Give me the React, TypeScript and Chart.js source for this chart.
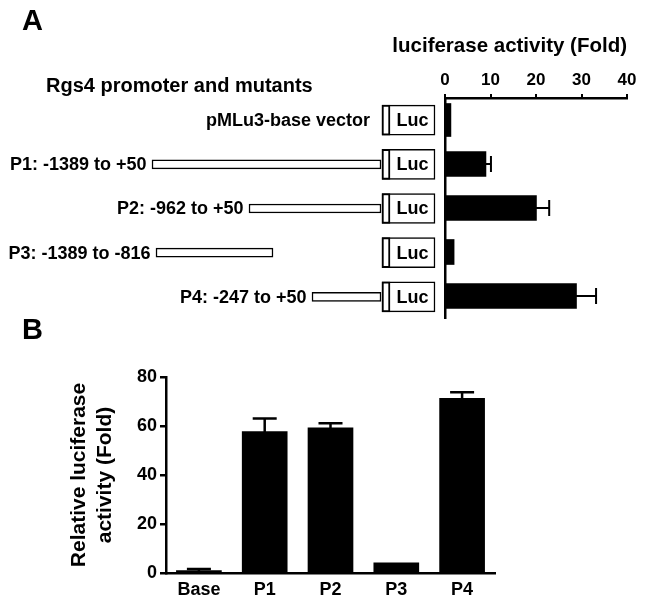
import React, { useEffect, useRef } from 'react';
import { Chart, registerables } from 'chart.js';

Chart.register(...registerables);

const FONT = '"Liberation Sans", Arial, Helvetica, sans-serif';
Chart.defaults.font.family = FONT;
Chart.defaults.color = '#000';

// ---------- Panel A data ----------
const constructLabels = [
  'pMLu3-base vector',
  'P1: -1389 to +50',
  'P2: -962 to +50',
  'P3: -1389 to -816',
  'P4: -247 to +50',
];
const foldMean = [1.3, 9.0, 20.1, 2.0, 28.9];
const foldErr = [0, 1.1, 2.8, 0, 4.3];
const foldMin = 0;
const foldMax = 40;
const foldStep = 10;
const foldTitle = 'luciferase activity (Fold)';
// promoter fragments in schematic map units (drawing is not to scale)
const fragStart = [null, 152, 249, 156, 312];
const fragEnd = [null, 381, 381, 273, 381];
const lucBox = [382, 435];
const lucHinge = [382, 390];
const mapMin = 0;
const mapMax = 645;

// ---------- Panel B data ----------
const groupsB = ['Base', 'P1', 'P2', 'P3', 'P4'];
const relMean = [1.0, 57.7, 59.3, 4.2, 71.3];
const relErr = [0.6, 5.4, 1.8, 0, 2.5];
const relMin = 0;
const relMax = 80;
const relStep = 20;
const relTitle = ['Relative luciferase', 'activity (Fold)'];

const errorBarPlugin = {
  id: 'errorBarsCustom',
  afterDatasetsDraw(chart: any) {
    const ctx = chart.ctx;
    const horizontal = chart.options.indexAxis === 'y';
    chart.data.datasets.forEach((ds: any, di: number) => {
      const errs = ds.errors;
      if (!errs) return;
      const meta = chart.getDatasetMeta(di);
      const vScale = horizontal ? chart.scales[meta.xAxisID] : chart.scales[meta.yAxisID];
      ctx.save();
      ctx.strokeStyle = '#000';
      ctx.lineWidth = ds.errorLineWidth || 2;
      meta.data.forEach((el: any, j: number) => {
        const v = ds.data[j];
        const e = errs[j];
        if (v == null || !e) return;
        const end = vScale.getPixelForValue(v + e);
        const cap = (ds.errorCap || 16) / 2;
        ctx.beginPath();
        if (horizontal) {
          ctx.moveTo(el.x - 2, el.y);
          ctx.lineTo(end, el.y);
          ctx.moveTo(end, el.y - cap);
          ctx.lineTo(end, el.y + cap);
        } else {
          ctx.moveTo(el.x, el.y + 2);
          ctx.lineTo(el.x, end);
          ctx.moveTo(el.x - cap, end);
          ctx.lineTo(el.x + cap, end);
        }
        ctx.stroke();
      });
      ctx.restore();
    });
  },
};

const schematicTextPlugin = {
  id: 'schematicText',
  afterDatasetsDraw(chart: any) {
    const ctx = chart.ctx;
    const xs = chart.scales.x;
    const ys = chart.scales.y;
    ctx.save();
    ctx.fillStyle = '#000';
    ctx.textBaseline = 'middle';
    ctx.font = `bold 18px ${FONT}`;
    constructLabels.forEach((label, i) => {
      const y = ys.getPixelForValue(i);
      const s = fragStart[i];
      const anchor = s != null ? xs.getPixelForValue(s) - 5.5 : xs.getPixelForValue(lucBox[0]) - 12;
      ctx.textAlign = 'right';
      ctx.fillText(label, anchor, y + 1);
      const cx = (xs.getPixelForValue(lucHinge[1]) + xs.getPixelForValue(lucBox[1])) / 2;
      ctx.textAlign = 'center';
      ctx.fillText('Luc', cx, y + 1);
    });
    ctx.restore();
  },
};

const canvasStyle: React.CSSProperties = {
  position: 'absolute',
  left: 0,
  top: 0,
  width: 645,
  height: 607,
};

function ChartCanvas({ makeConfig }: { makeConfig: () => any }) {
  const ref = useRef<HTMLCanvasElement | null>(null);
  useEffect(() => {
    const chart = new Chart(ref.current as HTMLCanvasElement, makeConfig());
    return () => chart.destroy();
  }, []);
  return <canvas ref={ref} width={645} height={607} style={canvasStyle} />;
}

const schematicConfig = () => ({
  type: 'bar',
  data: {
    labels: constructLabels,
    datasets: [
      {
        data: fragStart.map((s, i) => (s == null ? null : [s, fragEnd[i]])),
        backgroundColor: '#fff',
        borderColor: '#000',
        borderWidth: 1.5,
        borderSkipped: false,
        barThickness: 9,
        grouped: false,
      },
      {
        data: constructLabels.map(() => lucHinge),
        backgroundColor: '#fff',
        borderColor: '#000',
        borderWidth: 2,
        borderSkipped: false,
        barThickness: 30,
        grouped: false,
      },
      {
        data: constructLabels.map(() => lucBox),
        backgroundColor: '#fff',
        borderColor: '#000',
        borderWidth: 1.5,
        borderSkipped: false,
        barThickness: 30,
        grouped: false,
      },
    ],
  },
  options: {
    indexAxis: 'y',
    responsive: false,
    animation: false,
    layout: { padding: { left: 0, right: 0, top: 98, bottom: 288 } },
    scales: {
      x: { type: 'linear', display: false, min: mapMin, max: mapMax },
      y: { type: 'category', display: false },
    },
    plugins: { legend: { display: false }, tooltip: { enabled: false } },
  },
  plugins: [schematicTextPlugin],
});

const foldConfig = () => ({
  type: 'bar',
  data: {
    labels: constructLabels,
    datasets: [
      {
        data: foldMean.map((v, i) => (i === 0 ? v : null)),
        backgroundColor: '#000',
        barThickness: 33,
        grouped: false,
      },
      {
        data: foldMean.map((v, i) => (i === 0 ? null : v)),
        errors: foldErr,
        errorCap: 16,
        errorLineWidth: 2,
        backgroundColor: '#000',
        barThickness: 25,
        grouped: false,
      },
    ],
  },
  options: {
    indexAxis: 'y',
    responsive: false,
    animation: false,
    layout: { padding: { left: 445, right: 18, top: 30, bottom: 289 } },
    scales: {
      x: {
        type: 'linear',
        position: 'top',
        min: foldMin,
        max: foldMax,
        ticks: { stepSize: foldStep, font: { size: 17, weight: 'bold' }, color: '#000', padding: 3 },
        grid: { drawOnChartArea: false, color: '#000', lineWidth: 2, tickLength: 4 },
        border: { color: '#000', width: 2.5 },
        afterFit: (s: any) => {
          s.height = 68;
        },
      },
      y: {
        type: 'category',
        ticks: { display: false },
        grid: { display: true, drawOnChartArea: false, drawTicks: false },
        border: { display: true, color: '#000', width: 2.5 },
        afterFit: (s: any) => {
          s.width = 0;
        },
      },
    },
    plugins: { legend: { display: false }, tooltip: { enabled: false } },
  },
  plugins: [errorBarPlugin],
});

const relConfig = () => ({
  type: 'bar',
  data: {
    labels: groupsB,
    datasets: [
      {
        data: relMean,
        errors: relErr,
        errorCap: 24,
        errorLineWidth: 2.5,
        backgroundColor: '#000',
        barThickness: 45,
      },
    ],
  },
  options: {
    responsive: false,
    animation: false,
    layout: { padding: { left: 50, right: 150, top: 377, bottom: 4 } },
    scales: {
      x: {
        type: 'category',
        ticks: { font: { size: 18, weight: 'bold' }, color: '#000', padding: 6 },
        grid: { drawOnChartArea: false, drawTicks: false },
        border: { color: '#000', width: 2.5 },
        afterFit: (s: any) => {
          s.height = 30;
        },
      },
      y: {
        type: 'linear',
        min: relMin,
        max: relMax,
        ticks: { stepSize: relStep, font: { size: 18, weight: 'bold' }, color: '#000', padding: 3 },
        grid: { drawOnChartArea: false, color: '#000', lineWidth: 2.5, tickLength: 6 },
        border: { color: '#000', width: 2.5 },
        title: {
          display: true,
          text: relTitle,
          color: '#000',
          font: { size: 21, weight: 'bold', lineHeight: 1.25 },
          padding: { top: 16, bottom: 0 },
        },
        afterFit: (s: any) => {
          s.width = 116;
        },
      },
    },
    plugins: { legend: { display: false }, tooltip: { enabled: false } },
  },
  plugins: [errorBarPlugin],
});

const textStyle = (size: number): React.CSSProperties => ({
  position: 'absolute',
  fontFamily: FONT,
  fontWeight: 'bold',
  fontSize: size,
  lineHeight: 1,
  color: '#000',
  whiteSpace: 'nowrap',
});

export default function App() {
  return (
    <div
      style={{
        position: 'fixed',
        left: 0,
        top: 0,
        width: 645,
        height: 607,
        background: '#fff',
        overflow: 'hidden',
      }}
    >
      <ChartCanvas makeConfig={schematicConfig} />
      <ChartCanvas makeConfig={foldConfig} />
      <ChartCanvas makeConfig={relConfig} />
      <div style={{ ...textStyle(29), left: 22, top: 6 }}>A</div>
      <div style={{ ...textStyle(29), left: 22, top: 315 }}>B</div>
      <div style={{ ...textStyle(20), left: 46, top: 75 }}>Rgs4 promoter and mutants</div>
      <div style={{ ...textStyle(20.5), right: 18, top: 35 }}>{foldTitle}</div>
    </div>
  );
}
